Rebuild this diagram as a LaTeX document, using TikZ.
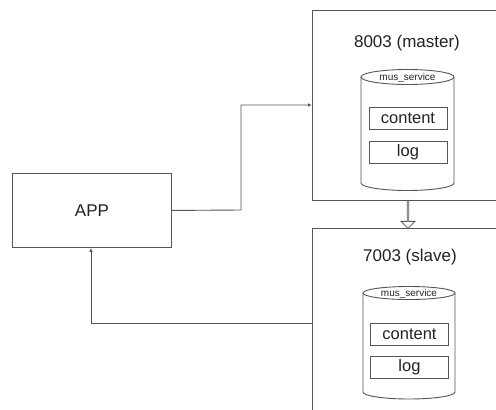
\documentclass[tikz,border=0pt]{standalone}
\usepackage{fontspec}
\setmainfont{Liberation Sans}
\usetikzlibrary{arrows.meta,shapes.arrows}
\definecolor{edge}{HTML}{555555}
\definecolor{ink}{HTML}{222222}
\begin{document}
\begin{tikzpicture}[x=1pt,y=-1pt,
  line width=0.9pt,
  box/.style={draw=edge,rectangle,inner sep=0pt},
  field/.style={draw=edge,rectangle,inner sep=0pt,minimum width=78pt,minimum height=22pt,font=\fontsize{16.5}{16.5}\selectfont,text=ink},
  title/.style={font=\fontsize{17}{17}\selectfont,text=ink},
  dbname/.style={font=\fontsize{10}{10}\selectfont,text=ink},
  wire/.style={draw=edge,-{Latex[length=4pt,width=3.5pt]}}]
\useasboundingbox[fill=white] (0,0) rectangle (496,410);
\begin{scope}
\clip (0,0) rectangle (496,410);
% server frames, running off the page
\node[box,minimum width=200pt,minimum height=190pt,anchor=north west] (master) at (312,10) {};
\node[box,minimum width=200pt,minimum height=200pt,anchor=north west] (slave) at (312,228) {};
% client
\node[box,minimum width=159pt,minimum height=74pt,anchor=north west,font=\fontsize{17}{17}\selectfont,text=ink] (app) at (12,173) {APP};
% titles
\node[title] (mtitle) at (407,43) {8003 (master)};
\node[title] (stitle) at (410,257) {7003 (slave)};
% databases
\draw[edge] (361,77) -- (361,183) arc[start angle=180,end angle=0,x radius=46.5,y radius=7.5] -- (454,77);
\draw[edge] (407.5,77) ellipse[x radius=46.5,y radius=7.5];
\node[dbname] (mdb) at (407.5,77.5) {mus\_service};
\draw[edge] (363,293) -- (363,392) arc[start angle=180,end angle=0,x radius=46,y radius=7] -- (455,293);
\draw[edge] (409,293) ellipse[x radius=46,y radius=6.5];
\node[dbname] (sdb) at (409,293.5) {mus\_service};
% tables
\node[field] (mcontent) at (408,118) {content};
\node[field] (mlog) at (408,152.5) {log};
\node[field] (scontent) at (409.5,334) {content};
\node[field] (slog) at (409.5,367.5) {log};
% replication
\node[draw=edge,fill=white,single arrow,shape border rotate=270,line width=0.8pt,
  minimum height=28pt,minimum width=14pt,single arrow head extend=3.5pt,inner sep=0pt] (repl) at (408,214) {};
% requests
\coordinate (k1) at (241,210);
\coordinate (k2) at (241,105);
\coordinate (k3) at (91,323);
\draw[wire] (app.east) -- (k1) -- (k2) -- (k2 -| master.west);
\draw[wire] (k3 -| slave.west) -- (k3) -- (app.south -| k3);
\end{scope}
\end{tikzpicture}
\end{document}
